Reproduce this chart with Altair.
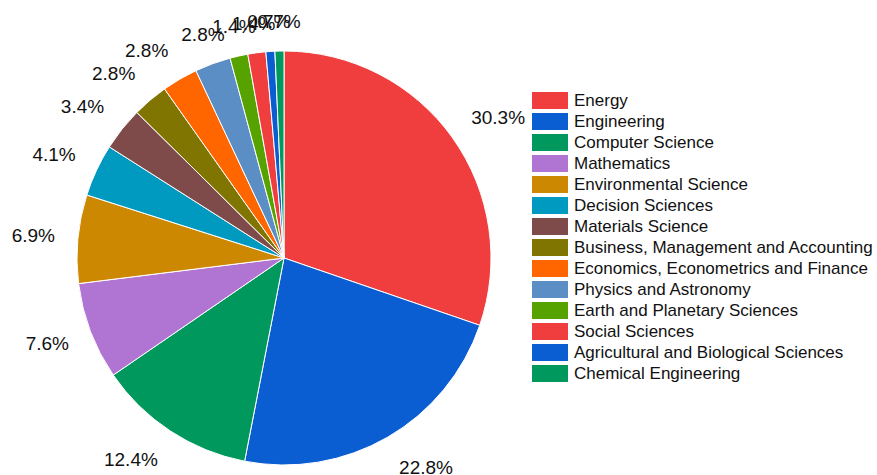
import altair as alt
import pandas as pd

categories = [
    "Energy", "Engineering", "Computer Science", "Mathematics",
    "Environmental Science", "Decision Sciences", "Materials Science",
    "Business, Management and Accounting", "Economics, Econometrics and Finance",
    "Physics and Astronomy", "Earth and Planetary Sciences", "Social Sciences",
    "Agricultural and Biological Sciences", "Chemical Engineering",
]
percents = [30.3, 22.8, 12.4, 7.6, 6.9, 4.1, 3.4, 2.8, 2.8, 2.8, 1.4, 1.4, 0.7, 0.7]
colors = [
    "#F03E3E", "#0B5ED1", "#00985C", "#B074D2", "#CC8800", "#0099C0",
    "#7E4A4A", "#7F7500", "#FF6600", "#5C8EC6", "#56A300", "#F03E3E",
    "#0B5ED1", "#00985C",
]

df = pd.DataFrame({
    "category": categories,
    "value": percents,
    "order": list(range(len(categories))),
    "label": [f"{p:.1f}%" for p in percents],
})

FONT = "Liberation Sans"
CX, CY, R = 284, 258, 207
LABEL_SIZE = 19
RX, RY = 230, 242  # label anchor ellipse

pie = alt.Chart(df).mark_arc(radius=R, stroke="white", strokeWidth=1).encode(
    theta=alt.Theta("value:Q", stack=True),
    order=alt.Order("order:Q", sort="ascending"),
    x=alt.value(CX),
    y=alt.value(CY),
    color=alt.Color(
        "category:N",
        scale=alt.Scale(domain=categories, range=colors),
        sort=categories,
        legend=alt.Legend(
            title=None,
            orient="none",
            legendX=541.5,
            legendY=92,
            symbolType="M-2.1176,-1H2.1176V1H-2.1176Z",
            symbolSize=289,
            symbolStrokeWidth=0,
            symbolOpacity=1,
            labelFont=FONT,
            labelFontSize=17,
            labelColor="#111111",
            labelOffset=15.5,
            labelLimit=400,
            rowPadding=3,
        ),
    ),
)

labels = alt.Chart(df).transform_joinaggregate(
    total="sum(value)"
).transform_window(
    cum="sum(value)", sort=[alt.SortField("order", order="ascending")]
).transform_calculate(
    mid="(datum.cum - datum.value / 2) / datum.total * 2 * PI"
).transform_calculate(
    s="sin(datum.mid)",
    c="cos(datum.mid)",
    half=f"({LABEL_SIZE * 0.556} * (length(datum.label) - 2) + {LABEL_SIZE * 1.167}) / 2",
).transform_calculate(
    ox=f"{RX} * datum.s + datum.half * (datum.s < 0 ? -1 : 1) * clamp((abs(datum.s) - 0.33) * 6, 0, 1)",
    oy=f"-({RY} - 6 * pow(max(datum.c, 0), 6)) * datum.c",
).transform_calculate(
    rad="sqrt(datum.ox * datum.ox + datum.oy * datum.oy)",
    ang="atan2(datum.ox, -datum.oy)",
).mark_text(
    font=FONT, fontSize=LABEL_SIZE, color="#111111",
    align="center", baseline="middle",
).encode(
    theta=alt.Theta("ang:Q", scale=None, stack=None),
    radius=alt.Radius("rad:Q", scale=None, stack=None),
    x=alt.value(CX),
    y=alt.value(CY),
    text="label:N",
)

chart = alt.layer(pie, labels).properties(
    width=877, height=475, padding=0,
    autosize=alt.AutoSizeParams(type="none"),
).configure_view(stroke=None)

chart.save("out.html", embed_options={"renderer": "svg", "actions": False})
